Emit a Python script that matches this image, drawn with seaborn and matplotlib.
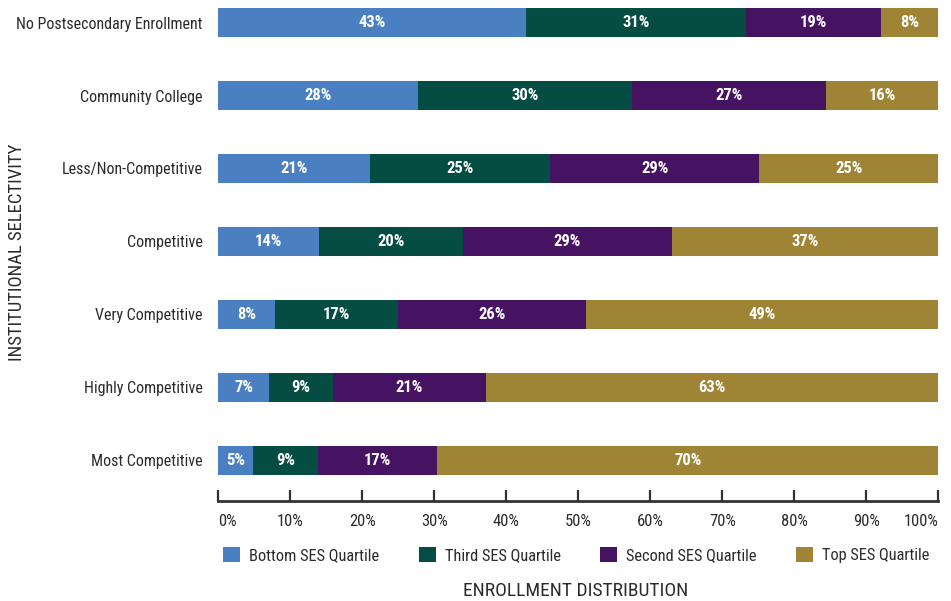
import matplotlib
matplotlib.use("Agg")
import matplotlib.pyplot as plt
from matplotlib.patches import Patch
import seaborn as sns
import pandas as pd

# Enrollment share (%) of each SES quartile within each selectivity tier
categories = [
    "No Postsecondary Enrollment",
    "Community College",
    "Less/Non-Competitive",
    "Competitive",
    "Very Competitive",
    "Highly Competitive",
    "Most Competitive",
]
bottom_q = [42.7, 27.7, 21.1, 14.0, 7.9, 7.0, 4.8]
third_q = [30.6, 29.8, 25.0, 20.0, 17.1, 8.9, 9.0]
second_q = [18.8, 26.9, 29.0, 29.0, 26.1, 21.3, 16.6]
top_q = [7.9, 15.6, 24.9, 37.0, 48.9, 62.8, 69.6]

series_names = ["Bottom SES Quartile", "Third SES Quartile",
                "Second SES Quartile", "Top SES Quartile"]
series_values = [bottom_q, third_q, second_q, top_q]
colors = ["#4a80c1", "#054c42", "#461262", "#9e8434"]
tick_values = list(range(0, 101, 10))
tick_labels = [f"{t}%" for t in tick_values]

sns.set_theme(style="white")
fonts = ["Roboto Condensed", "Liberation Sans", "DejaVu Sans"]
plt.rcParams["font.family"] = fonts
text_color = "#2b2b2b"

df = pd.DataFrame({"category": categories})
for name, vals in zip(series_names, series_values):
    df[name] = vals
cum = df[series_names].cumsum(axis=1)
cum["category"] = categories

fig = plt.figure(figsize=(9.51, 6.01), dpi=100)
ax = fig.add_axes([0.2296, 1 - 501 / 601, 0.9866 - 0.2296, 501 / 601])

# Stacked bars: draw cumulative totals from the outermost segment inward
for name, color in reversed(list(zip(series_names, colors))):
    sns.barplot(data=cum, x=name, y="category", order=categories,
                color=color, width=0.4, ax=ax, saturation=1, linewidth=0)

# Segment labels
for i in range(len(categories)):
    start = 0.0
    for name in series_names:
        v = df.loc[i, name]
        ax.text(start + v / 2, i, f"{v:.0f}%", ha="center", va="center",
                color="white", fontsize=12, fontweight="bold", family=fonts)
        start += v

ax.set_xlim(0, 100)
ax.set_ylim(6.56, -0.31)
ax.set_xticks(tick_values)
ax.set_xticklabels(tick_labels, fontsize=12, color=text_color)
xt = ax.get_xticklabels()
xt[0].set_ha("left")
xt[-1].set_ha("right")
ax.tick_params(axis="x", direction="in", length=8, width=1.6,
               color="#333333", pad=9, bottom=True)
ax.tick_params(axis="y", length=0, pad=11.5, labelsize=11.5, labelcolor=text_color)
ax.set_xlabel("")
ax.set_ylabel("")
for side in ["top", "right", "left"]:
    ax.spines[side].set_visible(False)
ax.spines["bottom"].set_color("#333333")
ax.spines["bottom"].set_linewidth(2)

handles = [Patch(facecolor=c, edgecolor="none") for c in colors]
fig.legend(handles, series_names, loc="center", bbox_to_anchor=(0.606, 1 - 555 / 601),
           ncol=4, frameon=False, fontsize=11.8, handlelength=1.05, handleheight=1.05,
           handletextpad=0.55, columnspacing=2.4, labelcolor=text_color)

fig.text(0.605, 1 - 591 / 601, "ENROLLMENT DISTRIBUTION", ha="center", va="center",
         fontsize=14, color=text_color)
fig.text(17.5 / 951, 1 - 252 / 601, "INSTITUTIONAL SELECTIVITY", ha="center", va="center",
         rotation=90, fontsize=13.5, color=text_color)

fig.savefig("out.png", dpi=100)
